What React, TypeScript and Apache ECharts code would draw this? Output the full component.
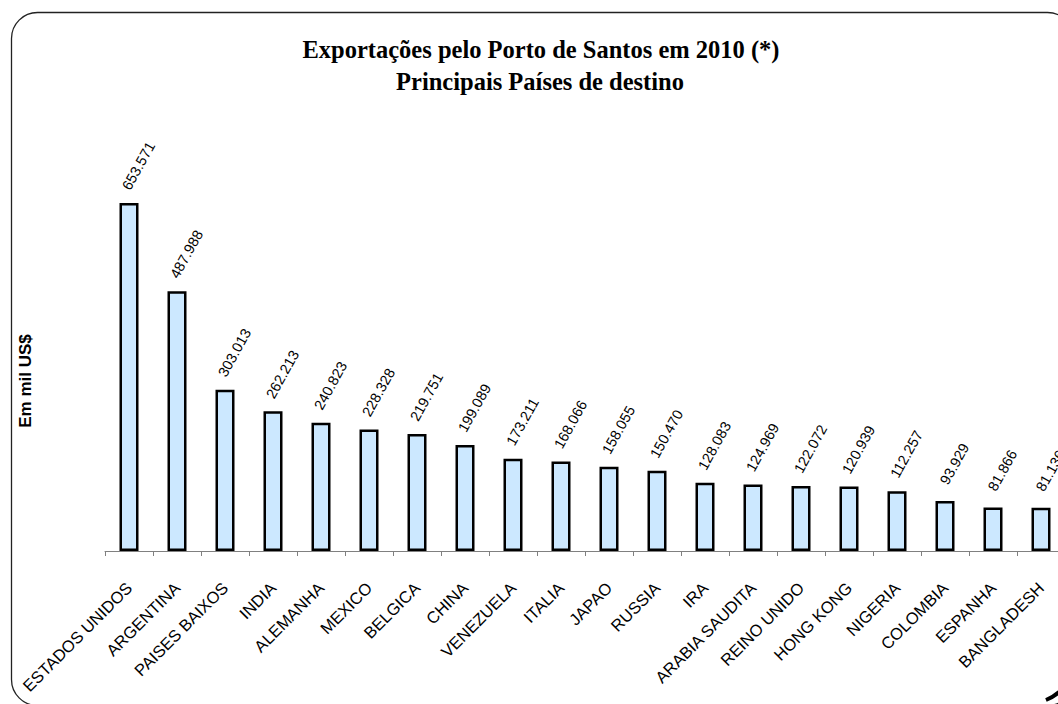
import React, { useEffect, useRef } from "react";
import * as echarts from "echarts";

const titleLines = ["Exportações pelo Porto de Santos em 2010 (*)", "Principais Países de destino"];
const yAxisTitle = "Em mil US$";

const countries = [
  "ESTADOS UNIDOS", "ARGENTINA", "PAISES BAIXOS", "INDIA", "ALEMANHA", "MEXICO", "BELGICA",
  "CHINA", "VENEZUELA", "ITALIA", "JAPAO", "RUSSIA", "IRA", "ARABIA SAUDITA", "REINO UNIDO",
  "HONG KONG", "NIGERIA", "COLOMBIA", "ESPANHA", "BANGLADESH",
];

const exportsValues = [
  653571, 487988, 303013, 262213, 240823, 228328, 219751,
  199089, 173211, 168066, 158055, 150470, 128083, 124969, 122072,
  120939, 112257, 93929, 81866, 81136,
];

const yMax = 800000;

function fmt(v: number): string {
  return String(Math.round(v)).replace(/\B(?=(\d{3})+(?!\d))/g, ".");
}

export default function App() {
  const ref = useRef<HTMLDivElement>(null);
  useEffect(() => {
    if (!ref.current) return;
    const chart = echarts.init(ref.current, undefined, { renderer: "svg" });
    chart.setOption({
      animation: false,
      backgroundColor: "#ffffff",
      grid: { left: 105, top: 125, width: 960, height: 426, containLabel: false, outerBoundsMode: "none" },
      xAxis: {
        type: "category",
        data: countries,
        boundaryGap: true,
        axisLine: { show: true, lineStyle: { color: "#808080", width: 1 } },
        axisTick: { show: true, alignWithLabel: false, length: 5, lineStyle: { color: "#808080", width: 1 } },
        axisLabel: {
          interval: 0,
          rotate: 45,
          margin: 34,
          color: "#000",
          fontFamily: "Liberation Sans, Arial, sans-serif",
          fontSize: 16.5,
        },
      },
      yAxis: {
        type: "value",
        min: 0,
        max: yMax,
        axisLine: { show: false },
        axisTick: { show: false },
        axisLabel: { show: false },
        splitLine: { show: false },
      },
      series: [
        {
          type: "bar",
          data: exportsValues,
          barWidth: 19,
          itemStyle: { color: "#CCE8FF", borderColor: "#000", borderWidth: 2.5 },
          label: {
            show: true,
            position: [19, -37],
            rotate: 61,
            align: "center",
            verticalAlign: "middle",
            color: "#000",
            fontFamily: "Liberation Sans, Arial, sans-serif",
            fontSize: 14.5,
            formatter: (p: any) => fmt(p.value),
          },
        },
      ],
      graphic: [
        {
          type: "rect",
          shape: { x: 11.5, y: 12.5, width: 1062, height: 693, r: 26 },
          style: { fill: "none", stroke: "#222", lineWidth: 1.3 },
          silent: true,
          z: 100,
        },
        {
          type: "arc",
          shape: { cx: 1030, cy: 659, r: 44, startAngle: 0.85, endAngle: 1.2 },
          style: { fill: "none", stroke: "#000", lineWidth: 4 },
          silent: true,
          z: 100,
        },
        {
          type: "text",
          x: 541,
          y: 49,
          style: {
            text: titleLines[0],
            fontFamily: "Liberation Serif, Times New Roman, serif",
            fontWeight: "bold",
            fontSize: 24.5,
            fill: "#000",
            textAlign: "center",
            textVerticalAlign: "middle",
          },
        },
        {
          type: "text",
          x: 540,
          y: 81,
          style: {
            text: titleLines[1],
            fontFamily: "Liberation Serif, Times New Roman, serif",
            fontWeight: "bold",
            fontSize: 24.5,
            fill: "#000",
            textAlign: "center",
            textVerticalAlign: "middle",
          },
        },
        {
          type: "text",
          x: 25,
          y: 381,
          rotation: Math.PI / 2,
          style: {
            text: yAxisTitle,
            fontFamily: "Liberation Sans, Arial, sans-serif",
            fontWeight: "bold",
            fontSize: 17,
            fill: "#000",
            textAlign: "center",
            textVerticalAlign: "middle",
          },
        },
      ],
    });
    return () => chart.dispose();
  }, []);
  return <div ref={ref} style={{ position: "absolute", left: 0, top: 0, width: 1058, height: 704 }} />;
}
